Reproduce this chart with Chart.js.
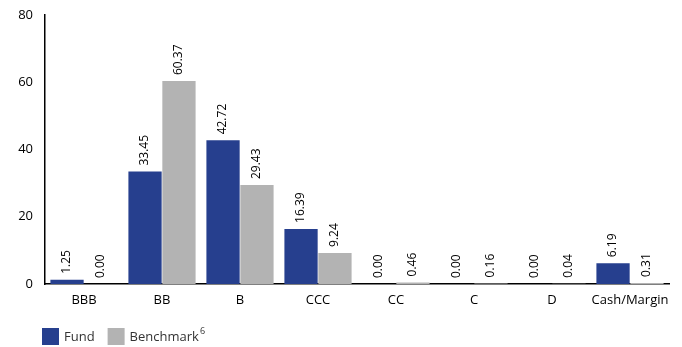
<!DOCTYPE html>
<html><head><meta charset="utf-8">
<script src="https://cdn.jsdelivr.net/npm/chart.js@4/dist/chart.umd.min.js"></script>
<style>html,body{margin:0;padding:0;background:#fff}#wrap{width:682px;height:347px;position:relative}</style>
</head><body><div id="wrap"><canvas id="c" width="682" height="347"></canvas></div>
<script>
const categories = ["BBB","BB","B","CCC","CC","C","D","Cash/Margin"];
const fundValues = [1.25,33.45,42.72,16.39,0.00,0.00,0.00,6.19];
const benchmarkValues = [0.00,60.37,29.43,9.24,0.46,0.16,0.04,0.31];
const yTicks = [0,20,40,60,80];
const seriesNames = ["Fund","Benchmark"];
const seriesSup = ["","6"];

const FONT = "'Open Sans', 'Liberation Sans', sans-serif";

const labelPlugin = {
  id: 'vlabels',
  afterDatasetsDraw(chart) {
    const ctx = chart.ctx;
    ctx.save();
    ctx.font = "12px " + FONT;
    ctx.fillStyle = "#000";
    ctx.textAlign = "left";
    ctx.textBaseline = "middle";
    chart.data.datasets.forEach((ds, i) => {
      const meta = chart.getDatasetMeta(i);
      meta.data.forEach((bar, j) => {
        const v = ds.data[j];
        ctx.save();
        ctx.translate(bar.x, bar.y - 6);
        ctx.rotate(-Math.PI / 2);
        ctx.fillText(v.toFixed(2), 0, 0);
        ctx.restore();
      });
    });
    ctx.restore();
  }
};

const legendPlugin = {
  id: 'customLegend',
  afterDraw(chart) {
    const ctx = chart.ctx;
    ctx.save();
    let x = 42;
    const y = 328, box = 17;
    ctx.textBaseline = "middle";
    ctx.textAlign = "left";
    chart.data.datasets.forEach((ds, i) => {
      ctx.fillStyle = ds.backgroundColor;
      ctx.fillRect(x, y, box, box);
      x += box + 5;
      ctx.font = "13px " + FONT;
      ctx.fillStyle = "#333";
      ctx.fillText(ds.label, x, y + box / 2 + 1);
      x += ctx.measureText(ds.label).width;
      if (seriesSup[i]) {
        ctx.font = "9px " + FONT;
        ctx.fillText(seriesSup[i], x + 1, y + 3);
        x += ctx.measureText(seriesSup[i]).width + 1;
      }
      x += 13;
    });
    ctx.restore();
  }
};

new Chart(document.getElementById('c'), {
  type: 'bar',
  data: {
    labels: categories,
    datasets: [
      { label: seriesNames[0], data: fundValues, backgroundColor: '#263f8e', borderWidth: 0 },
      { label: seriesNames[1], data: benchmarkValues, backgroundColor: '#b3b3b3', borderWidth: 0 }
    ]
  },
  options: {
    responsive: false,
    animation: false,
    layout: { padding: { left: 0, right: 13, top: 15, bottom: 33 } },
    datasets: { bar: { categoryPercentage: 0.87, barPercentage: 0.98 } },
    plugins: {
      legend: { display: false },
      tooltip: { enabled: false }
    },
    scales: {
      x: {
        afterFit(s) { s.height = 30; s.paddingLeft = 0; s.paddingRight = 0; },
        grid: { display: false, drawTicks: false },
        border: { color: '#000', width: 1.5 },
        ticks: { color: '#000', font: { size: 13, family: FONT }, padding: 8, maxRotation: 0, autoSkip: false }
      },
      y: {
        min: 0, max: 80,
        afterBuildTicks(s) { s.ticks = yTicks.map(v => ({ value: v })); },
        afterFit(s) { s.width = 45; s.paddingTop = 0; s.paddingBottom = 0; },
        grid: { display: false, drawTicks: false },
        border: { color: '#000', width: 1.5 },
        ticks: { color: '#000', font: { size: 13, family: FONT }, padding: 12 }
      }
    }
  },
  plugins: [labelPlugin, legendPlugin]
});
</script></body></html>
